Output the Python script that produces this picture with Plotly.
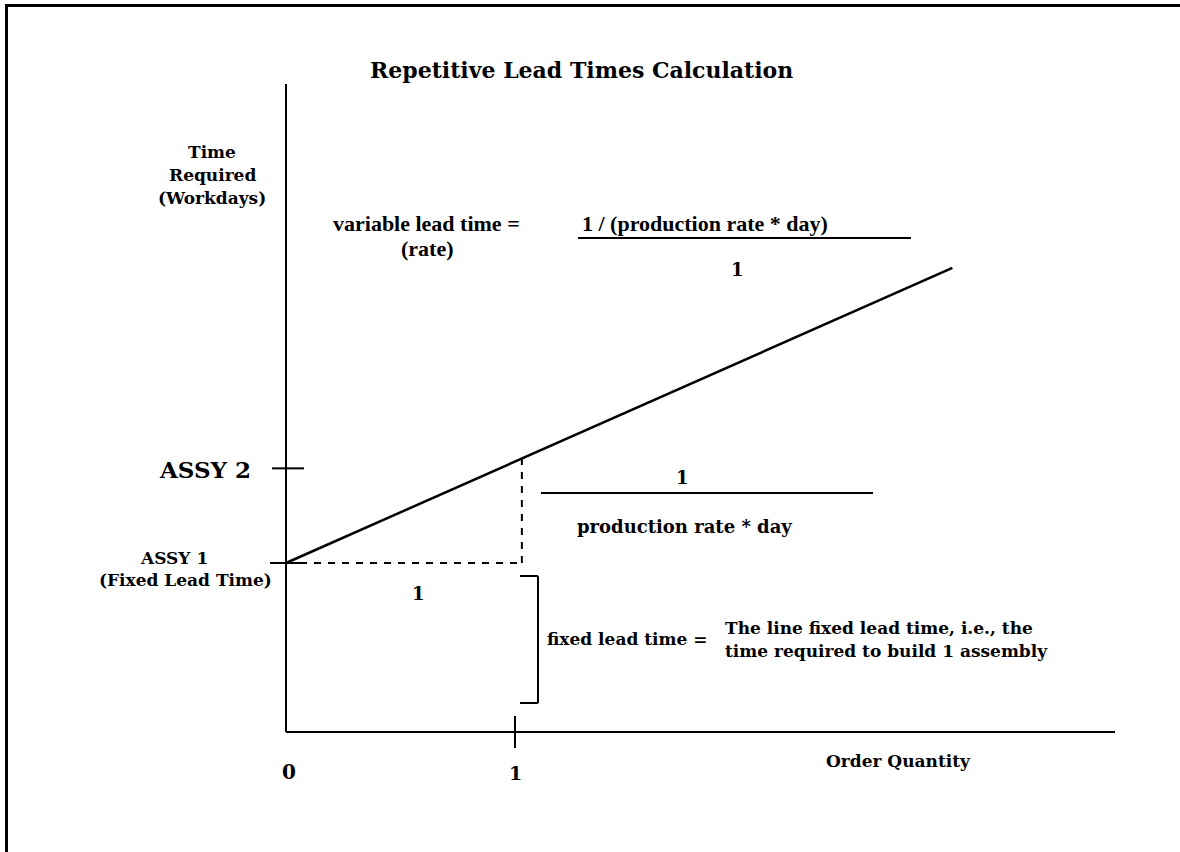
import plotly.graph_objects as go

# ---------------- data (schematic units) ----------------
# x: order quantity, y: time required (workdays, fixed lead time = 1 unit)
order_qty = [0.0, 2.91]            # sloped lead-time line, start / end quantity
lead_time = [1.0, 2.746]           # time required at those quantities
assy_levels = [1.0, 1.56]          # ASSY 1 (fixed lead time), ASSY 2
assy_labels = ["ASSY 1", "ASSY 2"]
qty_ticks = [0, 1]
qty_tick_labels = ["0", "1"]
unit_marker_qty = 1.03             # dashed drop line at one unit
unit_marker_time = 1.618

# ---------------- pixel mapping of the canvas ----------------
W, H = 1180, 852
X0_PX, X_UNIT = 286, 229
Y0_PX, Y_UNIT = 732, 169

def dx(px):
    return (px - X0_PX) / X_UNIT

def dy(py):
    return (Y0_PX - py) / Y_UNIT

def px(x):
    return x / W

def py(y):
    return 1 - y / H

SERIF = "DejaVu Serif"
TIMES = "Liberation Serif"
BLACK = "#000000"

fig = go.Figure()

# main sloped line
fig.add_trace(go.Scatter(x=order_qty, y=lead_time, mode="lines",
                         line=dict(color=BLACK, width=2.5),
                         hoverinfo="skip", showlegend=False))

shapes = []
def line(x0, y0, x1, y1, width=2, dash=None):
    d = dict(type="line", xref="x", yref="y", x0=x0, y0=y0, x1=x1, y1=y1,
             line=dict(color=BLACK, width=width))
    if dash:
        d["line"]["dash"] = dash
    shapes.append(d)

# axes
line(0, 0, 0, dy(84), width=2)
line(0, 0, dx(1115), 0, width=2)
# x tick at 1
line(qty_ticks[1], dy(716), qty_ticks[1], dy(748), width=2)
# y ticks at ASSY levels
line(dx(270), assy_levels[0], dx(302), assy_levels[0], width=2)
line(dx(272), assy_levels[1], dx(304), assy_levels[1], width=2)
# dashed guides
line(0, assy_levels[0], unit_marker_qty, assy_levels[0], width=2, dash="7px,7px")
line(unit_marker_qty, assy_levels[0], unit_marker_qty, unit_marker_time, width=2, dash="7px,7px")
# bracket
line(dx(520), dy(576), dx(538), dy(576), width=2)
line(dx(538), dy(576), dx(538), dy(703), width=2)
line(dx(520), dy(703), dx(538), dy(703), width=2)
# fraction bars
line(dx(578), dy(238), dx(911), dy(238), width=2)
line(dx(541), dy(493), dx(873), dy(493), width=2)

# outer frame (clipped at right / bottom)
shapes.append(dict(type="rect", xref="paper", yref="paper",
                   x0=px(6.5), y0=py(900), x1=px(1230), y1=py(5.5),
                   line=dict(color=BLACK, width=3)))

annotations = []
def text(t, x, y, size, family=SERIF, anchor="center"):
    annotations.append(dict(text="<b>" + t + "</b>", x=px(x), y=py(y),
                            xref="paper", yref="paper", showarrow=False,
                            xanchor=anchor, yanchor="middle",
                            font=dict(family=family, size=size, color=BLACK)))

text("Repetitive Lead Times Calculation", 581, 70, 22)
text("Time", 212, 152, 17)
text("Required", 212, 175, 17)
text("(Workdays)", 212, 198, 17)
text("variable lead time =", 426, 223, 22, TIMES)
text("(rate)", 427, 249, 22, TIMES)
text("1 / (production rate * day)", 705, 223, 22, TIMES)
text("1", 737, 269, 18)
text(assy_labels[1], 205, 469, 23)
text(assy_labels[0], 174, 558, 17)
text("(Fixed Lead Time)", 185, 580, 17)
text("1", 418, 593, 18)
text("1", 682, 477, 18)
text("production rate * day", 684, 526, 18)
text("fixed lead time =", 627, 639, 17)
text("The line fixed lead time, i.e., the", 723, 628, 17, anchor="left")
text("time required to build 1 assembly", 723, 651, 17, anchor="left")
text(qty_tick_labels[0], 289, 772, 20)
text(qty_tick_labels[1], 515, 773, 19)
text("Order Quantity", 898, 761, 17)

fig.update_layout(
    width=W, height=H,
    margin=dict(l=0, r=0, t=0, b=0),
    paper_bgcolor="white", plot_bgcolor="white",
    xaxis=dict(range=[dx(0), dx(W)], visible=False, fixedrange=True),
    yaxis=dict(range=[dy(H), dy(0)], visible=False, fixedrange=True),
    shapes=shapes, annotations=annotations,
    showlegend=False,
)

fig.write_html("out.html", config={"displayModeBar": False},
               post_script="document.body.style.margin='0px';document.body.style.overflow='hidden';")
